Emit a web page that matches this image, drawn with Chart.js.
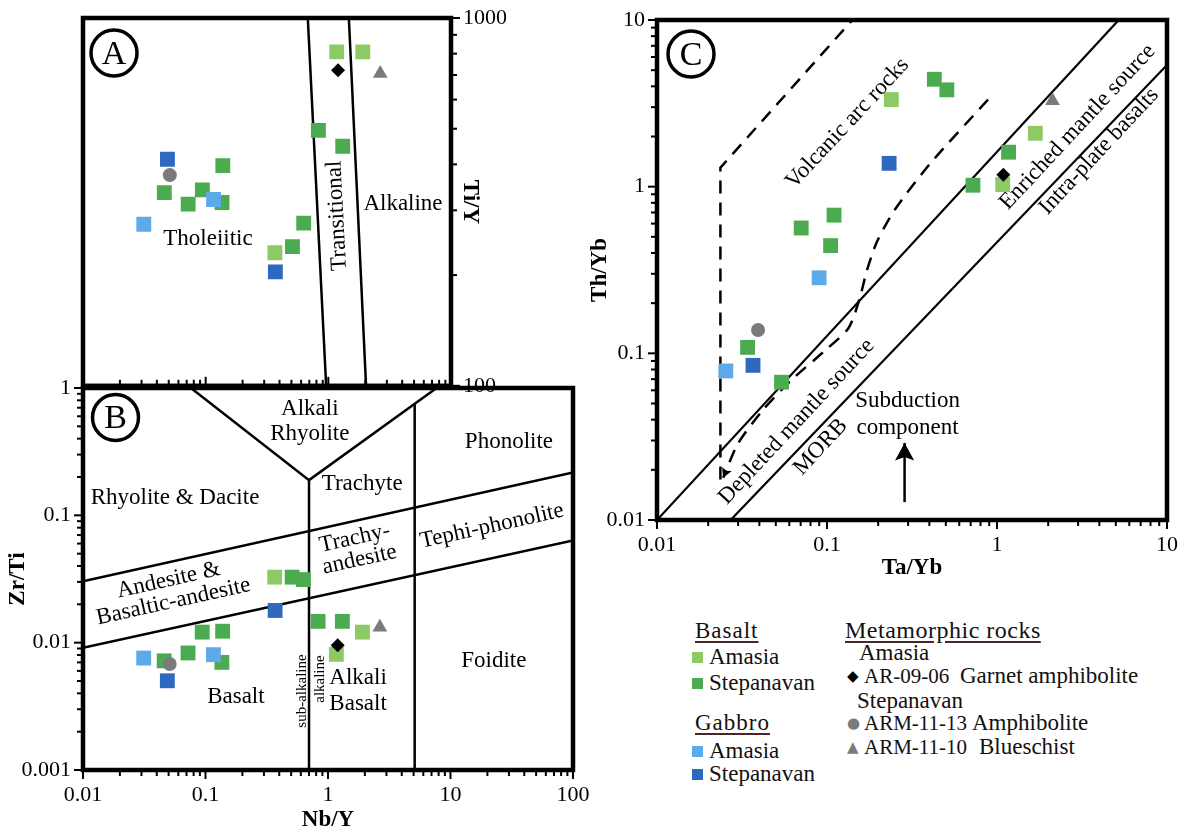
<!DOCTYPE html>
<html>
<head>
<meta charset="utf-8">
<script src="https://cdn.jsdelivr.net/npm/chart.js@4.4.1/dist/chart.umd.min.js"></script>
<style>
  html, body { margin: 0; padding: 0; background: #fff; }
  body { width: 1190px; height: 836px; position: relative; overflow: hidden;
         font-family: "Liberation Serif", "Times New Roman", serif; }
  .panel { position: absolute; }
  .lg { position: absolute; font-family: "Liberation Serif", serif; font-size: 23px; line-height: 26px;
        color: #141010; white-space: pre; }
  .code { font-size: 21px; }
  .hd { text-decoration: underline; text-decoration-color: #4a2626; text-underline-offset: 3px; letter-spacing: 1px; }
  .sq { position: absolute; width: 11px; height: 11px; }
  .sym { position: absolute; font-family: "DejaVu Sans", sans-serif; font-size: 15px; line-height: 26px; }
</style>
</head>
<body>
<div class="panel" style="left:0;top:0;width:530px;height:402px"><canvas id="chartA"></canvas></div>
<div class="panel" style="left:0;top:370px;width:600px;height:466px"><canvas id="chartB"></canvas></div>
<div class="panel" style="left:586px;top:0;width:604px;height:590px"><canvas id="chartC"></canvas></div>

<!-- legend -->
<div class="lg hd" style="left:695px;top:618px">Basalt</div>
<div class="sq" style="left:692px;top:652px;background:#8dc965"></div>
<div class="lg" style="left:709px;top:644px">Amasia</div>
<div class="sq" style="left:692px;top:678px;background:#4caa50"></div>
<div class="lg" style="left:709px;top:670px">Stepanavan</div>
<div class="lg hd" style="left:695px;top:710px">Gabbro</div>
<div class="sq" style="left:692px;top:746px;background:#5caaea"></div>
<div class="lg" style="left:709px;top:738px">Amasia</div>
<div class="sq" style="left:692px;top:769px;background:#2f68bf"></div>
<div class="lg" style="left:709px;top:761px">Stepanavan</div>

<div class="lg hd" style="left:845px;top:617px;font-size:24px;letter-spacing:0.5px">Metamorphic rocks</div>
<div class="lg" style="left:859px;top:640px">Amasia</div>
<div class="sym" style="left:847px;top:663px;color:#000">◆</div>
<div class="lg code" style="left:864px;top:663px">AR-09-06</div>
<div class="lg" style="left:960px;top:663px">Garnet amphibolite</div>
<div class="lg" style="left:857px;top:688px">Stepanavan</div>
<div class="sym" style="left:847px;top:710px;color:#7b7b7d">●</div>
<div class="lg code" style="left:864px;top:710px">ARM-11-13</div>
<div class="lg" style="left:972px;top:710px">Amphibolite</div>
<div class="sym" style="left:847px;top:734px;color:#7b7b7d">▲</div>
<div class="lg code" style="left:864px;top:734px">ARM-11-10</div>
<div class="lg" style="left:979px;top:734px">Blueschist</div>

<script>
// ---- sample data (one array per group; same sample order in A and B) ----
// Nb/Y, Ti/Y, Zr/Ti
const garnetNbY = [1.2];      const garnetTiY = [721];  const garnetZrTi = [0.00953];
const amphNbY   = [0.051];    const amphTiY   = [374];  const amphZrTi   = [0.0068];
const blueNbY   = [2.65];     const blueTiY   = [706];  const blueZrTi   = [0.0132];
const gabbroStNbY  = [0.0488, 0.37];
const gabbroStTiY  = [413, 204];
const gabbroStZrTi = [0.00502, 0.0179];
const gabbroAmNbY  = [0.0313, 0.116];
const gabbroAmTiY  = [275, 321];
const gabbroAmZrTi = [0.00757, 0.00805];
const basaltStNbY  = [0.83, 1.31, 0.138, 0.046, 0.094, 0.072, 0.136, 0.63, 0.51];
const basaltStTiY  = [495, 448, 397, 335, 341, 312, 315, 277, 239];
const basaltStZrTi = [0.0147, 0.0147, 0.0123, 0.0072, 0.0121, 0.0083, 0.0070, 0.0313, 0.0327];
const basaltAmNbY  = [1.17, 1.91, 0.367];
const basaltAmTiY  = [809, 809, 230];
const basaltAmZrTi = [0.0081, 0.0121, 0.0327];

// Ta/Yb, Th/Yb (panel C)
const garnetTaYb = [1.09];   const garnetThYb = [1.18];
const amphTaYb   = [0.0393]; const amphThYb   = [0.138];
const blueTaYb   = [2.12];   const blueThYb   = [3.28];
const gabbroStTaYb = [0.232, 0.0367];
const gabbroStThYb = [1.38, 0.0847];
const gabbroAmTaYb = [0.0899, 0.0254];
const gabbroAmThYb = [0.284, 0.0784];
const basaltStTaYb = [0.428, 0.507, 1.17, 0.722, 0.110, 0.0705, 0.105, 0.0341, 0.054];
const basaltStThYb = [4.41, 3.81, 1.61, 1.02, 0.675, 0.565, 0.443, 0.1086, 0.0671];
const basaltAmTaYb = [0.239, 1.68, 1.08];
const basaltAmThYb = [3.33, 2.09, 1.03];

// ---- field boundaries, [x, y] in data units ----
const aTholLine = [[0.68, 1000], [0.96, 100]];
const aAlkLine  = [[1.47, 1000], [2.03, 100]];

const bUpperLine = [[0.01, 0.0304], [100, 0.217]];
const bLowerLine = [[0.01, 0.0091], [100, 0.0636]];
const bVee       = [[0.076, 1], [0.70, 0.189], [7.7, 1]];
const bSubAlk    = [[0.70, 0.001], [0.70, 0.189]];
const bFoidite   = [[5.1, 0.001], [5.1, 0.751]];

const cUpperLine = [[0.01, 0.01], [5.2, 10]];
const cLowerLine = [[0.0271, 0.01], [10, 5.37]];
const cArcOuter  = [[0.0236, 0.0175], [0.0236, 1.3], [0.141, 10]];
const cArcInner  = [[0.885, 3.33], [0.408, 1.39], [0.251, 0.73], [0.197, 0.469], [0.171, 0.31],
                    [0.156, 0.215], [0.134, 0.142], [0.0975, 0.104], [0.0615, 0.0689],
                    [0.0418, 0.0455], [0.0298, 0.0285], [0.0245, 0.0179]];
const cSubdArrow = [[0.286, 0.0128], [0.286, 0.029]];

// ---- tick labels ----
const nbYTickLabels = ['0.01', '0.1', '1', '10', '100'];
const tiYTickLabels = ['100', '1000'];
const zrTiTickLabels = ['0.001', '0.01', '0.1', '1'];
const taYbTickLabels = ['0.01', '0.1', '1', '10'];
const thYbTickLabels = ['0.01', '0.1', '1', '10'];

// ---- field names ----
const aNotes = [
  {text: 'Tholeiitic', x: 0.1045, y: 250},
  {text: 'Transitional', x: 1.18, y: 290, angle: -93},
  {text: 'Alkaline', x: 4.06, y: 313}
];
const bNotes = [
  {text: 'Alkali\nRhyolite', x: 0.71, y: 0.546},
  {text: 'Phonolite', x: 30, y: 0.376},
  {text: 'Trachyte', x: 1.9, y: 0.176},
  {text: 'Rhyolite & Dacite', x: 0.0564, y: 0.137},
  {text: 'Tephi-phonolite', x: 21.8, y: 0.0824, angle: -12.5},
  {text: 'Trachy-\nandesite', x: 1.73, y: 0.0544, angle: -12.5, lh: 22},
  {text: 'Andesite &\nBasaltic-andesite', x: 0.0523, y: 0.0255, angle: -12.5, lh: 22},
  {text: 'Foidite', x: 22.6, y: 0.00718},
  {text: 'Basalt', x: 0.177, y: 0.00374},
  {text: 'Alkali\nBasalt', x: 1.76, y: 0.00417, lh: 26},
  {text: 'sub-alkaline', x: 0.614, y: 0.00417, angle: -90, size: 15},
  {text: 'alkaline', x: 0.861, y: 0.00518, angle: -90, size: 15}
];
const cNotes = [
  {text: 'Volcanic arc rocks', x: 0.132, y: 2.4, angle: -47},
  {text: 'Enriched mantle source', x: 2.98, y: 2.28, angle: -47},
  {text: 'Intra-plate basalts', x: 3.98, y: 1.63, angle: -47},
  {text: 'Depleted mantle source', x: 0.0662, y: 0.0389, angle: -47},
  {text: 'MORB', x: 0.0917, y: 0.0274, angle: -47},
  {text: 'Subduction\ncomponent', x: 0.298, y: 0.0429, lh: 27}
];

const FONT = '"Liberation Serif", "Times New Roman", serif';
const GREY = '#7b7b7d';

// draw order: first entry ends up on top
const seriesStyle = [
  {style: 'rectRot',  r: 7,    color: '#000'},     // AR-09-06
  {style: 'circle',   r: 7,    color: GREY},       // ARM-11-13
  {style: 'triangle', r: 8.5,  color: GREY},       // ARM-11-10
  {style: 'rect',     r: 10.5, color: '#2f68bf'},  // gabbro Stepanavan
  {style: 'rect',     r: 10.5, color: '#5caaea'},  // gabbro Amasia
  {style: 'rect',     r: 10.5, color: '#4caa50'},  // basalt Stepanavan
  {style: 'rect',     r: 10.5, color: '#8dc965'}   // basalt Amasia
];

const pts = (xs, ys) => xs.map((x, i) => ({x: x, y: ys[i]}));
const pairs = arr => arr.map(p => ({x: p[0], y: p[1]}));

function pointSets(xsList, ysList) {
  return seriesStyle.map((s, i) => ({
    data: pts(xsList[i], ysList[i]),
    pointStyle: s.style,
    pointRadius: s.r,
    pointHoverRadius: s.r,
    backgroundColor: s.color,
    borderColor: s.color,
    borderWidth: 0
  }));
}

function lineSet(arr, width, dash, tension) {
  return {
    data: pairs(arr),
    showLine: true,
    pointRadius: 0,
    pointHoverRadius: 0,
    borderColor: '#000',
    borderWidth: width,
    borderDash: dash || [],
    tension: tension || 0,
    fill: false
  };
}

function tickLabel(labels) {
  return function (v) {
    const hit = labels.find(l => Math.abs(parseFloat(l) - v) <= v * 1e-6);
    return hit !== undefined ? hit : '';
  };
}

function logTicks(min, max) {
  const out = [];
  const e0 = Math.round(Math.log10(min)), e1 = Math.round(Math.log10(max));
  for (let e = e0; e < e1; e++) {
    for (let m = 1; m < 10; m++) out.push(m * Math.pow(10, e));
  }
  out.push(max);
  return out;
}

function isMajor(v) {
  const l = Math.log10(v);
  return Math.abs(l - Math.round(l)) < 1e-6;
}

function logAxis(min, max, labels, title, opts) {
  return Object.assign({
    type: 'logarithmic',
    min: min,
    max: max,
    grid: {display: false, drawTicks: true, tickLength: 9},
    border: {display: false},
    ticks: {
      autoSkip: false, maxRotation: 0, minRotation: 0, padding: 3,
      color: '#000', font: {family: FONT, size: 22},
      callback: tickLabel(labels)
    },
    title: {display: !!title, text: title, color: '#000',
            font: {family: FONT, size: 23, weight: 'bold'}}
  }, opts);
}

// annotations, arrows, ticks, frame and panel letter
function panelDeco(spec) {
  return {
    id: 'deco' + spec.letter,
    afterDatasetsDraw(chart) {
      const ctx = chart.ctx, a = chart.chartArea;
      const xs = chart.scales.x, ys = chart.scales.y;
      ctx.save();
      ctx.fillStyle = '#000';
      ctx.strokeStyle = '#000';
      ctx.textAlign = 'center';
      ctx.textBaseline = 'middle';
      spec.notes.forEach(n => {
        const size = n.size || 23;
        const lh = n.lh || size * 1.1;
        const lines = n.text.split('\n');
        ctx.font = size + 'px ' + FONT;
        ctx.save();
        ctx.translate(xs.getPixelForValue(n.x), ys.getPixelForValue(n.y));
        ctx.rotate((n.angle || 0) * Math.PI / 180);
        lines.forEach((l, i) => ctx.fillText(l, 0, (i - (lines.length - 1) / 2) * lh));
        ctx.restore();
      });

      (spec.arrows || []).forEach(ar => {
        const p0 = [xs.getPixelForValue(ar.from[0]), ys.getPixelForValue(ar.from[1])];
        const p1 = [xs.getPixelForValue(ar.to[0]), ys.getPixelForValue(ar.to[1])];
        if (ar.line) {
          ctx.lineWidth = 2.5;
          ctx.beginPath();
          ctx.moveTo(p0[0], p0[1]);
          ctx.lineTo(p1[0], p1[1]);
          ctx.stroke();
        }
        const ang = Math.atan2(p1[1] - p0[1], p1[0] - p0[0]);
        const h = ar.head, sp = ar.spread || 0.45;
        ctx.beginPath();
        ctx.moveTo(p1[0], p1[1]);
        ctx.lineTo(p1[0] - h * Math.cos(ang - sp), p1[1] - h * Math.sin(ang - sp));
        ctx.lineTo(p1[0] - h * 0.7 * Math.cos(ang), p1[1] - h * 0.7 * Math.sin(ang));
        ctx.lineTo(p1[0] - h * Math.cos(ang + sp), p1[1] - h * Math.sin(ang + sp));
        ctx.closePath();
        ctx.fill();
      });

      ctx.lineWidth = 2;
      spec.ticks.forEach(t => {
        const sc = chart.scales[t.scale];
        logTicks(sc.min, sc.max).forEach(v => {
          const len = (isMajor(v) ? 9 : 6) * (t.inward ? -1 : 1);
          const p = sc.getPixelForValue(v);
          ctx.beginPath();
          if (t.edge === 'bottom') { ctx.moveTo(p, a.bottom); ctx.lineTo(p, a.bottom + len); }
          else if (t.edge === 'left') { ctx.moveTo(a.left, p); ctx.lineTo(a.left - len, p); }
          else { ctx.moveTo(a.right, p); ctx.lineTo(a.right + len, p); }
          ctx.stroke();
        });
      });

      ctx.lineWidth = 4.5;
      ctx.strokeRect(a.left, a.top, a.right - a.left, a.bottom - a.top);

      const cx = a.left + spec.letterAt[0], cy = a.top + spec.letterAt[1];
      ctx.lineWidth = 3.5;
      ctx.beginPath();
      ctx.arc(cx, cy, 23, 0, Math.PI * 2);
      ctx.stroke();
      ctx.font = '34px ' + FONT;
      ctx.fillText(spec.letter, cx, cy + 2);
      ctx.restore();
    }
  };
}

const base = {
  responsive: true,
  maintainAspectRatio: false,
  animation: false,
  events: [],
  plugins: {legend: {display: false}, tooltip: {enabled: false}}
};

// ---- panel A: Nb/Y vs Ti/Y ----
const axisAy = logAxis(100, 1000, tiYTickLabels, 'Ti/Y', {
  position: 'right',
  afterFit: s => { s.width = 79; }
});
axisAy.title.padding = {top: 46, bottom: 0};
new Chart(document.getElementById('chartA'), {
  type: 'scatter',
  data: {
    datasets: pointSets(
      [garnetNbY, amphNbY, blueNbY, gabbroStNbY, gabbroAmNbY, basaltStNbY, basaltAmNbY],
      [garnetTiY, amphTiY, blueTiY, gabbroStTiY, gabbroAmTiY, basaltStTiY, basaltAmTiY]
    ).concat([lineSet(aTholLine, 2.5), lineSet(aAlkLine, 2.5)])
  },
  options: Object.assign({}, base, {
    layout: {padding: {left: 83, top: 18, bottom: 14, right: 0}},
    scales: {
      x: {type: 'logarithmic', min: 0.01, max: 10, display: false},
      y: axisAy
    }
  }),
  plugins: [panelDeco({
    letter: 'A', letterAt: [31, 35], notes: aNotes,
    ticks: [{scale: 'x', edge: 'bottom', inward: true}, {scale: 'y', edge: 'right'}]
  })]
});

// ---- panel B: Nb/Y vs Zr/Ti ----
const axisBx = logAxis(0.01, 100, nbYTickLabels, 'Nb/Y', {afterFit: s => { s.height = 66; }});
axisBx.title.padding = {top: 0, bottom: 2};
const axisBy = logAxis(0.001, 1, zrTiTickLabels, 'Zr/Ti', {afterFit: s => { s.width = 83; }});
axisBy.title.padding = {top: 4, bottom: 0};
new Chart(document.getElementById('chartB'), {
  type: 'scatter',
  data: {
    datasets: pointSets(
      [garnetNbY, amphNbY, blueNbY, gabbroStNbY, gabbroAmNbY, basaltStNbY, basaltAmNbY],
      [garnetZrTi, amphZrTi, blueZrTi, gabbroStZrTi, gabbroAmZrTi, basaltStZrTi, basaltAmZrTi]
    ).concat([
      lineSet(bUpperLine, 2.5), lineSet(bLowerLine, 2.5), lineSet(bVee, 2.5),
      lineSet(bSubAlk, 2.5), lineSet(bFoidite, 2.5)
    ])
  },
  options: Object.assign({}, base, {
    layout: {padding: {left: 0, top: 18, bottom: 0, right: 27}},
    scales: {x: axisBx, y: axisBy}
  }),
  plugins: [panelDeco({
    letter: 'B', letterAt: [32.5, 29.5], notes: bNotes,
    ticks: [{scale: 'x', edge: 'bottom'}, {scale: 'y', edge: 'left'}]
  })]
});

// ---- panel C: Ta/Yb vs Th/Yb ----
const axisCx = logAxis(0.01, 10, taYbTickLabels, 'Ta/Yb', {afterFit: s => { s.height = 70; }});
axisCx.title.padding = {top: 0, bottom: 8};
const axisCy = logAxis(0.01, 10, thYbTickLabels, 'Th/Yb', {afterFit: s => { s.width = 71; }});
axisCy.title.padding = {top: 0, bottom: 0};
new Chart(document.getElementById('chartC'), {
  type: 'scatter',
  data: {
    datasets: pointSets(
      [garnetTaYb, amphTaYb, blueTaYb, gabbroStTaYb, gabbroAmTaYb, basaltStTaYb, basaltAmTaYb],
      [garnetThYb, amphThYb, blueThYb, gabbroStThYb, gabbroAmThYb, basaltStThYb, basaltAmThYb]
    ).concat([
      lineSet(cUpperLine, 2.2), lineSet(cLowerLine, 2.2),
      lineSet(cArcOuter, 2.5, [13, 9]), lineSet(cArcInner, 2.5, [13, 9], 0.25)
    ])
  },
  options: Object.assign({}, base, {
    layout: {padding: {left: 0, top: 20, bottom: 0, right: 23}},
    scales: {x: axisCx, y: axisCy}
  }),
  plugins: [panelDeco({
    letter: 'C', letterAt: [34, 34], notes: cNotes,
    ticks: [{scale: 'x', edge: 'bottom'}, {scale: 'y', edge: 'left'}],
    arrows: [
      {from: cSubdArrow[0], to: cSubdArrow[1], line: true, head: 20, spread: 0.5},
      {from: cArcInner[cArcInner.length - 2], to: cArcInner[cArcInner.length - 1], head: 11, spread: 0.5}
    ]
  })]
});
</script>
</body>
</html>
